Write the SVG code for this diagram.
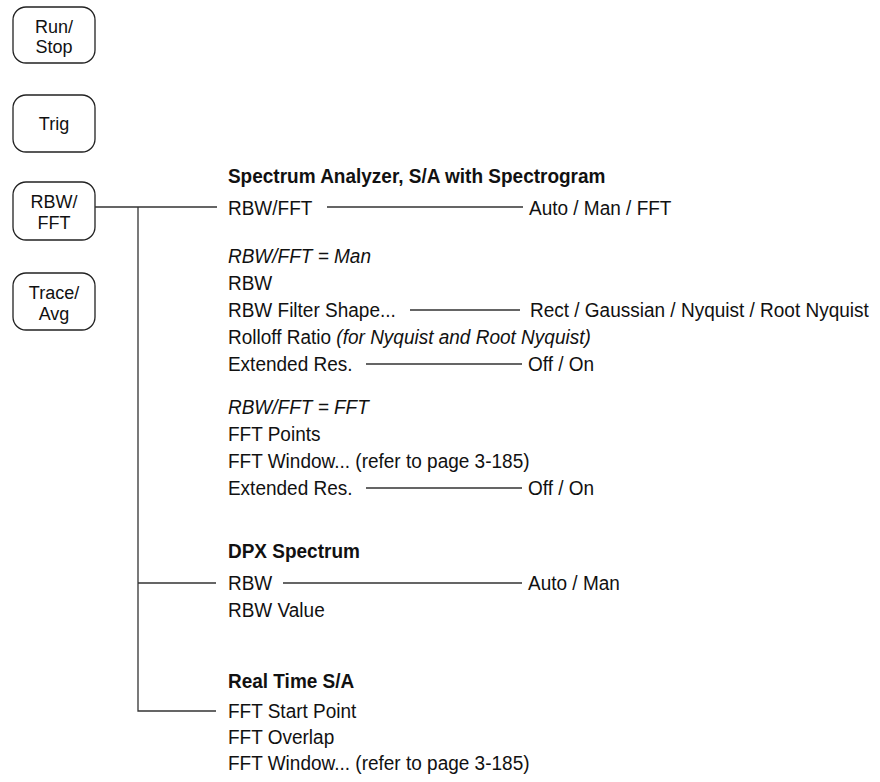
<svg xmlns="http://www.w3.org/2000/svg" width="880" height="782" viewBox="0 0 880 782">
<style>
text{font-family:"Liberation Sans",Arial,Helvetica,sans-serif;font-size:21px;fill:#111}
.b{font-weight:bold}
.i{font-style:italic}
.k{font-size:18px;text-anchor:middle}
.btn{fill:#fff;stroke:#222;stroke-width:1.3}
.ln{stroke:#333;stroke-width:1.3;fill:none}
</style>
<rect width="880" height="782" fill="#fff"/>
<g id="btn-runstop"><rect class="btn" x="13" y="7" width="82" height="56" rx="13"/><text class="k" x="54" y="33">Run/</text><text class="k" x="54" y="53">Stop</text></g>
<g id="btn-trig"><rect class="btn" x="13" y="95" width="82" height="57" rx="13"/><text class="k" x="54" y="130">Trig</text></g>
<g id="btn-rbwfft"><rect class="btn" x="13" y="182" width="82" height="58" rx="13"/><text class="k" x="54" y="208">RBW/</text><text class="k" x="54" y="229">FFT</text></g>
<g id="btn-traceavg"><rect class="btn" x="13" y="273" width="82" height="57" rx="13"/><text class="k" x="54" y="299">Trace/</text><text class="k" x="54" y="320">Avg</text></g>
<g id="connectors">
<path class="ln" d="M95 207H217M138 207V711H216M138 583H216"/>
<path class="ln" d="M327 207H523M410 310H520M366 364H522M366 488H522M283 583H522"/>
</g>
<g id="sa" transform="scale(0.905 1)">
<text class="b" x="251.9" y="183">Spectrum Analyzer, S/A with Spectrogram</text>
<text x="251.9" y="215">RBW/FFT</text><text x="584.5" y="215">Auto / Man / FFT</text>
<text class="i" x="251.9" y="263">RBW/FFT = Man</text>
<text x="251.9" y="290">RBW</text>
<text x="251.9" y="317">RBW Filter Shape...</text><text x="585.6" y="317">Rect / Gaussian / Nyquist / Root Nyquist</text>
<text x="251.9" y="344">Rolloff Ratio <tspan class="i">(for Nyquist and Root Nyquist)</tspan></text>
<text x="251.9" y="371">Extended Res.</text><text x="583.4" y="371">Off / On</text>
<text class="i" x="251.9" y="414">RBW/FFT = FFT</text>
<text x="251.9" y="441">FFT Points</text>
<text x="251.9" y="468">FFT Window... (refer to page 3-185)</text>
<text x="251.9" y="495">Extended Res.</text><text x="583.4" y="495">Off / On</text>
</g>
<g id="dpx" transform="scale(0.905 1)">
<text class="b" x="251.9" y="558">DPX Spectrum</text>
<text x="251.9" y="590">RBW</text><text x="583.4" y="590">Auto / Man</text>
<text x="251.9" y="617">RBW Value</text>
</g>
<g id="rt" transform="scale(0.905 1)">
<text class="b" x="251.9" y="688">Real Time S/A</text>
<text x="251.9" y="718">FFT Start Point</text>
<text x="251.9" y="744">FFT Overlap</text>
<text x="251.9" y="770">FFT Window... (refer to page 3-185)</text>
</g>
</svg>
